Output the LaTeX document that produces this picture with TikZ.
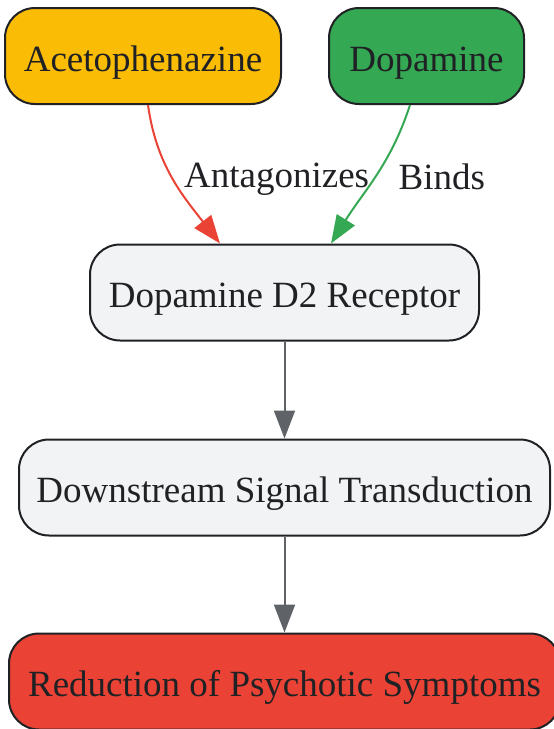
\documentclass[tikz,border=0pt]{standalone}
\usepackage{fontspec}
\setmainfont{Liberation Serif}
\usetikzlibrary{arrows.meta}
\definecolor{ink}{HTML}{202124}
\definecolor{edgegray}{HTML}{5F6368}
\definecolor{boxgray}{HTML}{F1F3F4}
\definecolor{gyellow}{HTML}{FBBC05}
\definecolor{ggreen}{HTML}{34A853}
\definecolor{gred}{HTML}{EA4335}
\tikzset{
	box/.style={draw=ink, line width=2pt, rounded corners=30pt, minimum height=96pt,
		text=ink, font=\fontsize{37}{44}\selectfont, inner sep=0pt,
		text height=34pt, text depth=4pt},
	edge/.style={line width=2pt, -{Triangle[length=28pt,width=21pt]}},
	lbl/.style={text=ink, font=\fontsize{37}{44}\selectfont, inner sep=0pt}
}

\begin{document}
\begin{tikzpicture}[x=1pt, y=-1pt]
		\useasboundingbox (0,0) rectangle (554,729);

		\node[box, fill=gyellow,  minimum width=276pt] (acet) at (143, 56)    {Acetophenazine};
		\node[box, fill=ggreen,   minimum width=195pt] (dopa) at (426.5, 56)  {Dopamine};
		\node[box, fill=boxgray,  minimum width=389pt] (d2r)  at (284.5, 292.5) {Dopamine D2 Receptor};
		\node[box, fill=boxgray,  minimum width=531pt] (sig)  at (284.5, 487.5) {Downstream Signal Transduction};
		\node[box, fill=gred,     minimum width=551pt] (red)  at (284.5, 681.5) {Reduction of Psychotic Symptoms};

		\draw[edge, gred]   ([xshift=5pt]acet.south) to[out=-82, in=128]
			node[lbl, right, pos=0.5, xshift=10pt] {Antagonizes} ([xshift=-64.5pt]d2r.north);
		\draw[edge, ggreen] ([xshift=-16.5pt]dopa.south) to[out=-108, in=58]
			node[lbl, right, pos=0.5, xshift=22pt] {Binds} ([xshift=46.5pt]d2r.north);
		\draw[edge, edgegray] (d2r) -- (sig);
		\draw[edge, edgegray] (sig) -- (red);
	\end{tikzpicture}
\end{document}
